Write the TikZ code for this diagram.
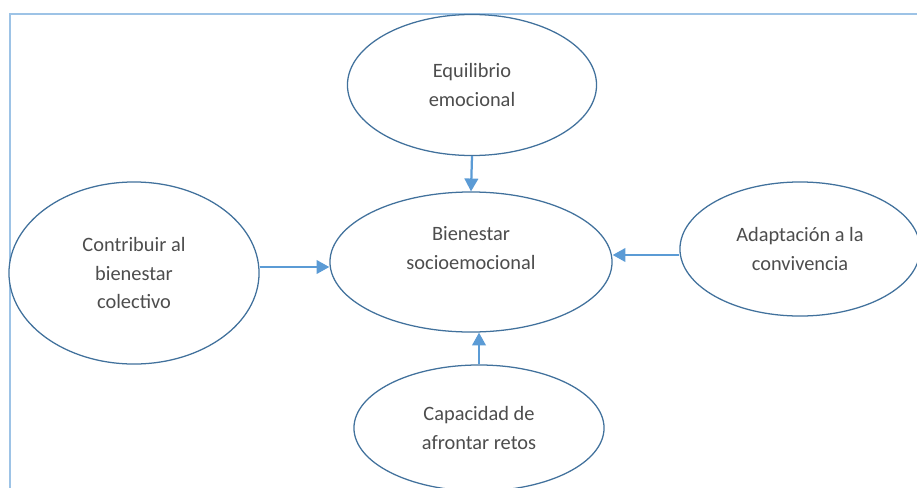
\documentclass[tikz,border=0pt]{standalone}
\usepackage{fontspec}
\setmainfont{Carlito}
\usetikzlibrary{shapes.geometric,arrows.meta}
\definecolor{rim}{HTML}{41719C}
\definecolor{flow}{HTML}{5B9BD5}
\definecolor{frame}{HTML}{9DC3E6}
\definecolor{ink}{HTML}{4D4D4D}
\begin{document}
\begin{tikzpicture}[x=0.025cm,y=-0.025cm,
    bubble/.style ={ellipse, draw=rim, line width=0.9pt, fill=white, inner sep=0pt,
      align=center, text=ink, font=\fontsize{14.5}{20}\selectfont},
    link/.style ={draw=flow, line width=1.6pt, -{Triangle[length=3.2mm,width=3.4mm]}}]
   \useasboundingbox (0,0) rectangle (917,488);
   \draw[frame, line width=1pt] (10,488) -- (10,14) -- (917,14);
   \node[bubble, minimum width=6.225cm, minimum height=3.525cm] (eq) at (472,85) {Equilibrio\\emocional};
   \node[bubble, minimum width=7.05cm, minimum height=3.5cm] (bien) at (471,262) {Bienestar\\socioemocional\\\mbox{}};
   \node[bubble, minimum width=6.25cm, minimum height=4.55cm] (contrib) at (134,273) {Contribuir al\\bienestar\\colectivo};
   \node[bubble, minimum width=6.0cm, minimum height=3.35cm] (adapt) at (800,249) {Adaptación a la\\convivencia};
   \node[bubble, minimum width=6.25cm, minimum height=3.15cm] (cap) at (479,428) {Capacidad de\\afrontar retos};
   \draw[link] (eq.south) -- (bien.north);
   \draw[link] (contrib.east |- 0,267) -- (bien.west |- 0,267);
   \draw[link] (adapt.west |- 0,255) -- (bien.east |- 0,255);
   \draw[link] (cap.north) -- (cap.north |- bien.south);
 \end{tikzpicture}
\end{document}
